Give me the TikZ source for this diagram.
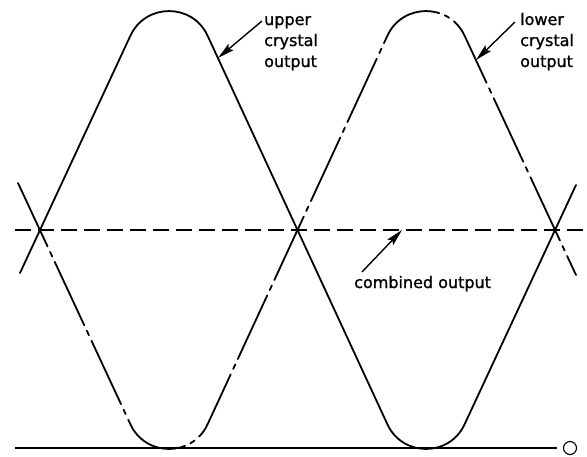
\documentclass[tikz,border=0pt]{standalone}
\usepackage{fontspec}
\newfontfamily\lettering[FakeBold=1.2]{DejaVu Sans}
\usetikzlibrary{arrows.meta, positioning}
\begin{document}
\begin{tikzpicture}[
    x=1pt, y=-1pt,
    wave/.style={line width=1.8pt, line cap=round},
    upperwave/.style={wave},
    lowerwave/.style={wave, dash pattern=on 70pt off 6pt on 5pt off 6pt},
    comb/.style={line width=1.5pt, dash pattern=on 16pt off 7pt},
    ptr/.style={-{Stealth[length=17pt,width=8pt,inset=3pt]}, line width=1.4pt},
    lbl/.style={font=\lettering\fontsize{16}{21}\selectfont, align=left, inner sep=0pt, anchor=base west}
]
    \useasboundingbox (0,0) rectangle (587,456);

    \draw[comb] (15,230) -- (587,230);
    \draw[upperwave] (20,273) -- (130.5,35.5)
        .. controls (145.7,2.9) and (192.3,2.9) .. (207.5,35.5) -- (387.5,424.5)
        .. controls (402.7,457.1) and (449.3,457.1) .. (464.5,424.5) -- (576,185);
    \draw[lowerwave] (18,183) -- (130.5,424.5)
        .. controls (145.7,457.1) and (192.3,457.1) .. (207.5,424.5) -- (387.5,35.5)
        .. controls (402.7,2.9) and (449.3,2.9) .. (464.5,35.5) -- (576,275);

    \node[circle, draw, line width=1.1pt, minimum size=13pt, inner sep=0pt] (term) at (570,448) {};
    \draw[line width=1.2pt] (15,448) -- ([xshift=-6pt]term.west);

    \node[lbl] (upper) at (264,67) {upper\\crystal\\output};
    \node[lbl] (lower) at (520,67) {lower\\crystal\\output};
    \node[lbl] (combined) at (354,288) {combined output};

    \coordinate (uptip) at (218,58);
    \coordinate (lowtip) at (476,60);
    \coordinate (combtip) at (402,230);

    \draw[ptr] ([xshift=-2pt,yshift=46pt]upper.base west) -- (uptip);
    \draw[ptr] ([xshift=-5pt,yshift=45pt]lower.base west) -- (lowtip);
    \draw[ptr] ([xshift=8pt,yshift=16pt]combined.base west) -- (combtip);
\end{tikzpicture}
\end{document}
